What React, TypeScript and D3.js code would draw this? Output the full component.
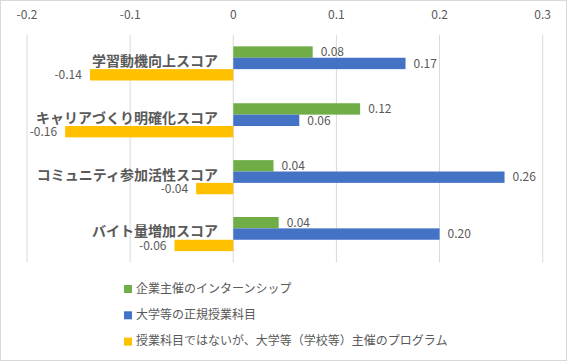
import React, { useEffect, useRef } from 'react';
import * as d3 from 'd3';

const categories = ['学習動機向上スコア', 'キャリアづくり明確化スコア', 'コミュニティ参加活性スコア', 'バイト量増加スコア'];
const seriesNames = ['企業主催のインターンシップ', '大学等の正規授業科目', '授業科目ではないが、大学等（学校等）主催のプログラム'];
const internship = [0.077, 0.123, 0.039, 0.044];
const regularCourse = [0.167, 0.064, 0.263, 0.2];
const schoolProgram = [-0.139, -0.163, -0.036, -0.057];
const xTicks = [-0.2, -0.1, 0, 0.1, 0.2, 0.3];

const FONT = '"Noto Sans CJK JP", "Noto Sans", sans-serif';

const App = () => {
  const svgRef = useRef<SVGSVGElement>(null);

  useEffect(() => {
    const svg = d3.select(svgRef.current);
    svg.selectAll('*').remove();

    const width = 567;
    const height = 361;
    const colors = ['#70AD47', '#4472C4', '#FFC000'];
    const seriesValues = [internship, regularCourse, schoolProgram];
    const fmt = (v: number) => v.toFixed(2); // plain hyphen minus like the original

    // chart border
    svg.append('rect')
      .attr('x', 0.5).attr('y', 0.5)
      .attr('width', width - 1).attr('height', height - 1)
      .attr('fill', '#fff')
      .attr('stroke', '#d9d9d9');

    const x = d3.scaleLinear().domain([-0.2, 0.3]).range([27, 542.7]);
    const y = d3.scaleBand().domain(categories).range([35, 262.5]).paddingInner(0.4).paddingOuter(0.2);
    const sub = d3.scaleBand().domain(['0', '1', '2']).range([0, y.bandwidth()]);

    // gridlines
    svg.append('g')
      .selectAll('line')
      .data(xTicks)
      .join('line')
      .attr('x1', d => x(d)).attr('x2', d => x(d))
      .attr('y1', 35).attr('y2', 262.5)
      .attr('stroke', '#d9d9d9');

    // tick labels on top
    svg.append('g')
      .selectAll('text')
      .data(xTicks)
      .join('text')
      .attr('x', d => x(d))
      .attr('y', 15)
      .attr('dy', '0.35em')
      .attr('text-anchor', 'middle')
      .attr('fill', '#595959')
      .style('font-family', FONT)
      .style('font-size', '12px')
      .text(d => String(d));

    // bars + value labels
    seriesValues.forEach((vals, si) => {
      const g = svg.append('g');
      g.selectAll('rect')
        .data(vals)
        .join('rect')
        .attr('x', d => x(Math.min(0, d)))
        .attr('y', (d, i) => y(categories[i])! + sub(String(si))!)
        .attr('width', d => Math.abs(x(d) - x(0)))
        .attr('height', sub.bandwidth())
        .attr('fill', colors[si]);

      g.selectAll('text')
        .data(vals)
        .join('text')
        .attr('x', d => d >= 0 ? x(d) + 8 : x(d) - 8)
        .attr('y', (d, i) => y(categories[i])! + sub(String(si))! + sub.bandwidth() / 2)
        .attr('dy', '0.35em')
        .attr('text-anchor', d => d >= 0 ? 'start' : 'end')
        .attr('fill', '#595959')
        .style('font-family', FONT)
        .style('font-size', '12px')
        .text(d => fmt(d));
    });

    // category labels
    svg.append('g')
      .selectAll('text')
      .data(categories)
      .join('text')
      .attr('x', 218)
      .attr('y', d => y(d)! + y.bandwidth() / 2 - 2.5)
      .attr('dy', '0.35em')
      .attr('text-anchor', 'end')
      .attr('fill', '#595959')
      .style('font-family', FONT)
      .style('font-size', '14px')
      .style('font-weight', 'bold')
      .text(d => d);

    // legend
    const legend = svg.append('g')
      .selectAll('g')
      .data(seriesNames)
      .join('g')
      .attr('transform', (d, i) => `translate(124,${288.5 + i * 26.3})`);

    legend.append('rect')
      .attr('x', 0).attr('y', -3.5)
      .attr('width', 8).attr('height', 8)
      .attr('fill', (d, i) => colors[i]);

    legend.append('text')
      .attr('x', 12)
      .attr('y', 0)
      .attr('dy', '0.35em')
      .attr('fill', '#595959')
      .style('font-family', FONT)
      .style('font-size', '12px')
      .text(d => d);
  }, []);

  return (
    <svg ref={svgRef} width="567" height="361" style={{ position: 'fixed', left: 0, top: 0 }}></svg>
  );
};

export default App;
